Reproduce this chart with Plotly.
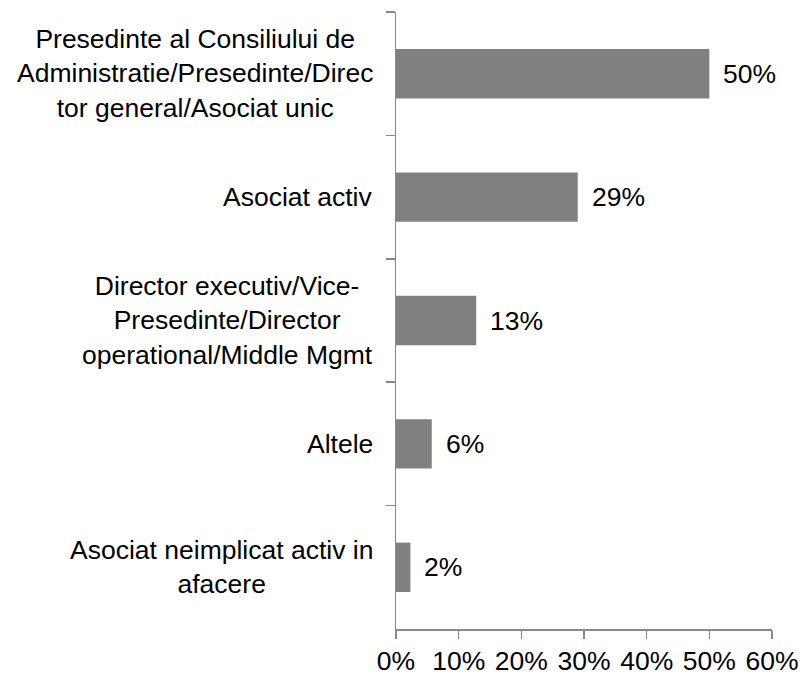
import plotly.graph_objects as go

categories = [
    "Presedinte al Consiliului de<br>Administratie/Presedinte/Direc<br>tor general/Asociat unic",
    "Asociat activ",
    "Director executiv/Vice-<br>Presedinte/Director<br>operational/Middle Mgmt",
    "Altele",
    "Asociat neimplicat activ in<br>afacere",
]
values = [0.50, 0.29, 0.128, 0.057, 0.023]
value_labels = ["50%", "29%", "13%", "6%", "2%"]
x_ticks = [0, 0.1, 0.2, 0.3, 0.4, 0.5, 0.6]
x_tick_labels = ["0%", "10%", "20%", "30%", "40%", "50%", "60%"]

FONT = "Liberation Sans, Arial, sans-serif"
FS = 26.5
AXIS_COLOR = "#888888"

fig = go.Figure(
    go.Bar(
        x=values,
        y=categories,
        orientation="h",
        marker=dict(color="#808080", line=dict(width=0)),
        hoverinfo="skip",
    )
)

annotations = []
for cat, v, lab in zip(categories, values, value_labels):
    annotations.append(dict(
        x=v, y=cat, xref="x", yref="y", text=lab, showarrow=False,
        xanchor="left", xshift=12, font=dict(family=FONT, size=FS, color="#000000"),
    ))
    annotations.append(dict(
        x=0, y=cat, xref="paper", yref="y", text=cat, showarrow=False,
        xanchor="right", align="center", xshift=-21,
        font=dict(family=FONT, size=FS, color="#000000"),
    ))

fig.update_layout(
    width=802, height=673,
    margin=dict(l=396, r=30, t=12, b=44),
    paper_bgcolor="white", plot_bgcolor="white",
    bargap=0.6,
    showlegend=False,
    annotations=annotations,
    xaxis=dict(
        range=[0, 0.6], tickvals=x_ticks, ticktext=x_tick_labels, automargin=False,
        showgrid=False, zeroline=False, showline=True, linecolor=AXIS_COLOR, linewidth=1.5,
        ticks="outside", ticklen=8, tickcolor=AXIS_COLOR, tickwidth=1.5,
        tickfont=dict(family=FONT, size=FS, color="#000000"),
    ),
    yaxis=dict(
        type="category", autorange="reversed", categoryorder="array", categoryarray=categories,
        showticklabels=False, showgrid=False, zeroline=False, automargin=False,
        showline=True, linecolor=AXIS_COLOR, linewidth=1.5,
        ticks="outside", tickson="boundaries", ticklen=9, tickcolor=AXIS_COLOR, tickwidth=1.5,
    ),
)

fig.write_html(
    "out.html",
    config={"displayModeBar": False, "staticPlot": True},
    post_script="document.body.style.margin='0';document.body.style.overflow='hidden';",
)
